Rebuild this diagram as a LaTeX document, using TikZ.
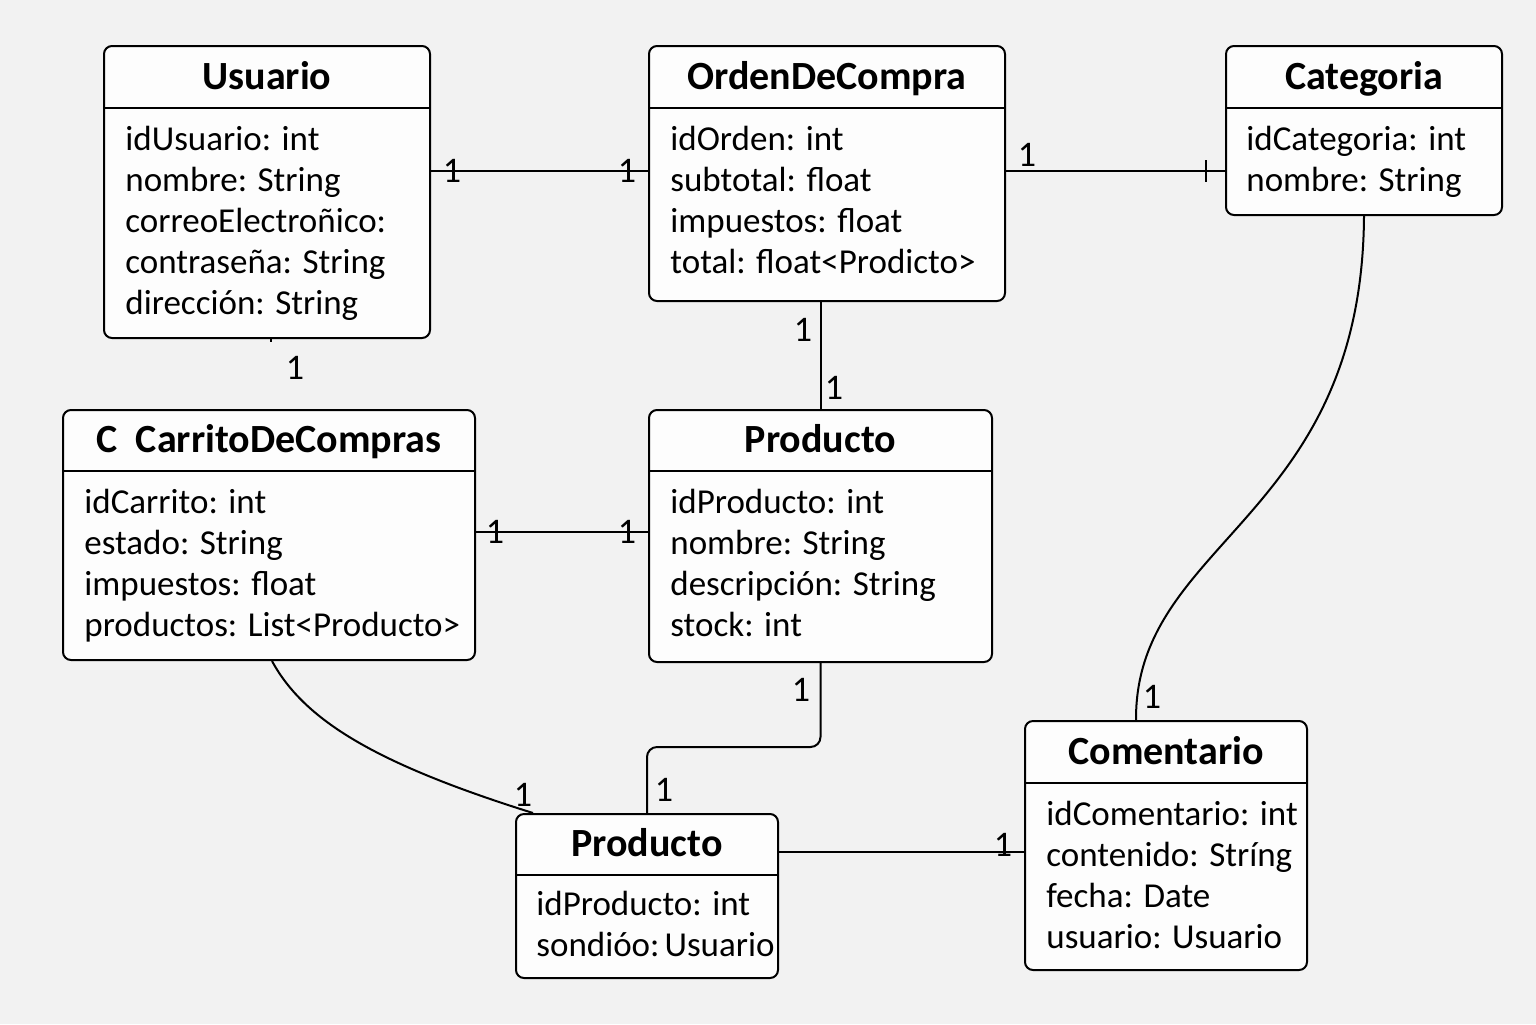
\documentclass[tikz,border=0pt]{standalone}
\usepackage{fontspec}
\setmainfont{Carlito}
\usepackage{tikz}
\usetikzlibrary{positioning}
\definecolor{bgcolor}{HTML}{F2F2F2}
\definecolor{boxfill}{HTML}{FDFDFD}
\tikzset{
x=0.5pt, y=-0.5pt, % one unit is one pixel of the sketch, y downwards
classbox/.style={draw, line width=1pt, rounded corners=4pt, fill=boxfill, inner sep=0pt, anchor=north west}, % the frame of a class
classtitle/.style={inner sep=0pt, text height=12.8pt, text depth=0pt, font=\fontsize{20}{24}\selectfont\bfseries},
attr/.style={inner sep=0pt, anchor=west, text height=11.3pt, text depth=0pt, font=\fontsize{17.5}{20.5}\selectfont},
mult/.style={inner sep=0pt, text height=11.5pt, text depth=0pt, font=\fontsize{18}{20}\selectfont}, % multiplicity
link/.style={line width=1pt},
}
% name, x, y, width, height, title band, title
\newcommand{\umlclass}[7]{
\node[classbox, minimum width={#4*0.5pt}, minimum height={#5*0.5pt}] (#1) at (#2,#3) {};
\draw[line width=1pt] ([yshift=-#6*0.5pt]#1.north west) -- ([yshift=-#6*0.5pt]#1.north east);
\node[classtitle] (#1-title) at ([yshift=-#6*0.25pt]#1.north) {#7};
}
% name, x, y of first line, attributes
\newcommand{\umlattrs}[4]{
\foreach \t [count=\i] in {#4}
\node[attr] (#1-a\i) at (#2,{#3+41*(\i-1)}) {\t};
}

\begin{document}
\begin{tikzpicture}
\path[fill=bgcolor, use as bounding box] (0,0) rectangle (1536,1024);

\umlclass{usuario}{103}{45}{326}{292}{63}{Usuario}
\umlattrs{usuario}{125}{139}{idUsuario: int, nombre: String, correoElectroñico:, contraseña: String, dirección: String}

\umlclass{orden}{648}{45}{356}{255}{63}{OrdenDeCompra}
\umlattrs{orden}{670}{139}{idOrden: int, subtotal: float, impuestos: float, total: float<Prodicto>}

\umlclass{categoria}{1225}{45}{276}{169}{63}{Categoria}
\umlattrs{categoria}{1246}{139}{idCategoria: int, nombre: String}

\umlclass{carrito}{62}{409}{412}{250}{62}{C\ \ CarritoDeCompras}
\umlattrs{carrito}{84}{502}{idCarrito: int, estado: String, impuestos: float, productos: List<Producto>}

\umlclass{producto}{648}{409}{343}{252}{62}{Producto}
\umlattrs{producto}{670}{502}{idProducto: int, nombre: String, descripción: String, stock: int}

\umlclass{productob}{515}{813}{262}{164}{62}{Producto}
\umlattrs{productob}{536}{904}{idProducto: int, sondióo:\hspace{2.5pt}Usuario}

\umlclass{comentario}{1024}{720}{282}{249}{63}{Comentario}
\umlattrs{comentario}{1046}{814}{idComentario: int, contenido: Stríng, fecha: Date, usuario: Usuario}

% associations
\draw[link] (usuario.east |- 0,171) -- (orden.west |- 0,171);
\node[mult] (m1) at (452,171) {1};
\node[mult] (m2) at (627,171) {1};

\draw[link] (orden.east |- 0,171) -- (categoria.west |- 0,171);
\node[mult] (m3) at (1027,155) {1};
\draw[link] (1206,160) -- (1206,182);

\coordinate (stub) at (271,342);
\draw[link] (usuario.south -| stub) -- (stub);
\node[mult] (m4) at (295,368) {1};

\draw[link] (producto.north |- orden.south) -- (producto.north);
\node[mult] (m5) at (803,330) {1};
\node[mult] (m6) at (834,388) {1};

\draw[link] (carrito.east |- 0,532) -- (producto.west |- 0,532);
\node[mult] (m7) at (495,532) {1};
\node[mult] (m8) at (627,532) {1};

\draw[link, rounded corners=5pt] (producto.south) -- ++(0,84) -| (productob.north);
\node[mult] (m9) at (801,690) {1};
\node[mult] (m10) at (664,790) {1};

\draw[link] ([xshift=1.5pt]carrito.south) .. controls (305,722) and (380,765) .. ([xshift=9pt]productob.north west);
\node[mult] (m11) at (523,795) {1};

\draw[link] (productob.east |- 0,852) -- (comentario.west |- 0,852);
\node[mult] (m12) at (1003,845) {1};

\draw[link] (categoria.south) .. controls (1362,520) and (1135,540) .. ([xshift=-15pt]comentario.north);
\node[mult] (m13) at (1152,697) {1};
\end{tikzpicture}
\end{document}
